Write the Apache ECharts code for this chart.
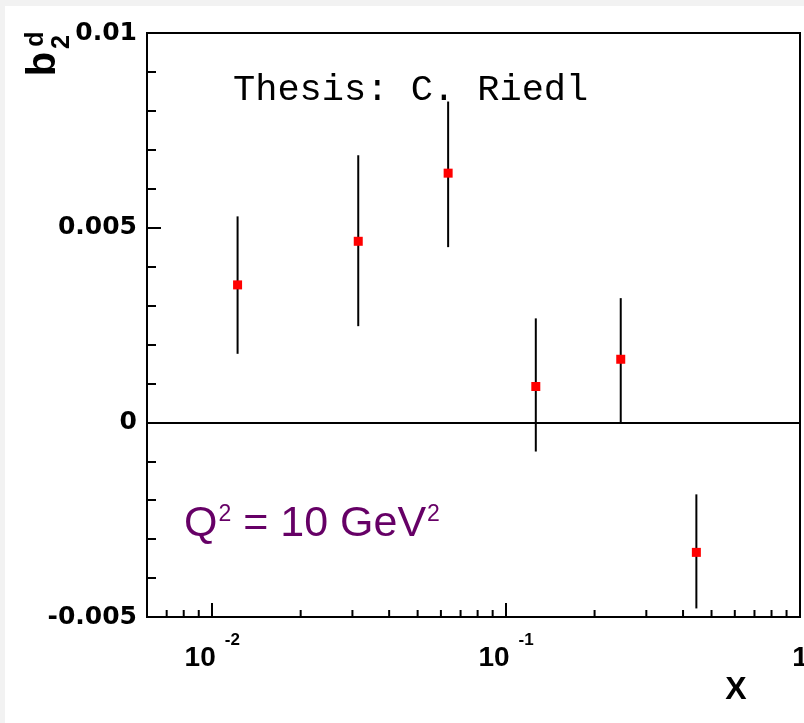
<!DOCTYPE html>
<html><head><meta charset="utf-8">
<script src="https://cdn.jsdelivr.net/npm/echarts@6/dist/echarts.min.js"></script>
<style>html,body{margin:0;padding:0;background:#fff;overflow:hidden}#c{width:804px;height:723px}</style>
</head><body><div id="c"></div>
<script>
// Data
const xValues = [0.0122, 0.0314, 0.0635, 0.1262, 0.2455, 0.444];
const yValues = [0.00353, 0.00465, 0.0064, 0.00092, 0.00162, -0.00334];
const errLow  = [0.00176, 0.00247, 0.0045, -0.00075, 0.0, -0.00478];
const errHigh = [0.00529, 0.00686, 0.00824, 0.00267, 0.00319, -0.00185];
const xMinorTicks = [0.007, 0.008, 0.009, 0.02, 0.03, 0.04, 0.05, 0.06, 0.07, 0.08, 0.09,
                     0.2, 0.3, 0.4, 0.5, 0.6, 0.7, 0.8, 0.9];
const yTickLabels = ['-0.005', '0', '0.005', '0.01'];

const chart = echarts.init(document.getElementById('c'), null, {renderer: 'canvas'});
const FONT = 'Liberation Sans';
const YFONT = 'DejaVu Sans';
const yMin = -0.005, yMax = 0.01;

const option = {
  backgroundColor: '#ffffff',
  animation: false,
  grid: {left: 147, right: 4, top: 33, bottom: 106, show: true, borderColor: '#000', borderWidth: 2,
         backgroundColor: 'transparent', containLabel: false, outerBoundsMode: 'none'},
  xAxis: {
    type: 'log', logBase: 10, min: 0.006, max: 1,
    axisLine: {show: true, onZero: false, lineStyle: {color: '#000', width: 2}},
    axisTick: {show: true, inside: true, length: 14, lineStyle: {color: '#000', width: 2}},
    splitLine: {show: false},
    axisLabel: {
      margin: 15, color: '#000', showMinLabel: false, hideOverlap: false,
      formatter: function (v) {
        const e = Math.round(Math.log10(v));
        if (Math.abs(Math.log10(v) - e) > 1e-6) return '';
        if (e === 0) return '{b|1}';
        return '{b|10}{s|' + e + '}';
      },
      rich: {
        b: {fontFamily: FONT, fontWeight: 'bold', fontSize: 28, lineHeight: 40, verticalAlign: 'bottom', color: '#000'},
        s: {fontFamily: FONT, fontWeight: 'bold', fontSize: 17, verticalAlign: 'top', padding: [0, 0, 0, 9], color: '#000'}
      }
    }
  },
  yAxis: {
    type: 'value', min: yMin, max: yMax, interval: 0.005,
    axisLine: {show: true, onZero: false, lineStyle: {color: '#000', width: 2}},
    axisTick: {show: true, inside: true, length: 14, lineStyle: {color: '#000', width: 2}},
    minorTick: {show: true, splitNumber: 5, length: 9, lineStyle: {color: '#000', width: 2}},
    splitLine: {show: false},
    axisLabel: {
      margin: 10, color: '#000', fontFamily: YFONT, fontWeight: 'bold', fontSize: 25,
      formatter: function (v) {
        const idx = Math.round((v - yMin) / 0.005);
        return yTickLabels[idx] !== undefined ? yTickLabels[idx] : '';
      }
    }
  },
  series: [
    {
      type: 'custom', name: 'minorTicks', silent: true, z: 3,
      data: xMinorTicks.map(v => [v, yMin]),
      renderItem: function (params, api) {
        const p = api.coord([api.value(0), api.value(1)]);
        return {type: 'line', shape: {x1: p[0], y1: p[1], x2: p[0], y2: p[1] - 7}, style: {stroke: '#000', lineWidth: 2}};
      }
    },
    {
      type: 'custom', name: 'errors', silent: true, z: 4,
      data: xValues.map((x, i) => [x, errLow[i], errHigh[i]]),
      encode: {x: 0, y: [1, 2]},
      renderItem: function (params, api) {
        const p1 = api.coord([api.value(0), api.value(1)]);
        const p2 = api.coord([api.value(0), api.value(2)]);
        return {type: 'line', shape: {x1: p1[0], y1: p1[1], x2: p2[0], y2: p2[1]}, style: {stroke: '#000', lineWidth: 2}};
      },
      markLine: {
        silent: true, symbol: ['none', 'none'], label: {show: false},
        lineStyle: {color: '#000', width: 2, type: 'solid'},
        data: [{yAxis: 0}]
      }
    },
    {
      type: 'scatter', name: 'b2d', z: 5,
      symbol: 'rect', symbolSize: 9,
      itemStyle: {color: '#ff0000', opacity: 1},
      data: xValues.map((x, i) => [x, yValues[i]])
    }
  ],
  graphic: [
    {type: 'rect', shape: {x: 0, y: 0, width: 804, height: 6}, style: {fill: '#f2f2f2'}, silent: true},
    {type: 'rect', shape: {x: 0, y: 0, width: 5, height: 723}, style: {fill: '#f2f2f2'}, silent: true},
    {type: 'text', x: 233, y: 90, style: {text: 'Thesis: C. Riedl', fontFamily: 'Liberation Mono', fontSize: 37, fill: '#000', align: 'left', verticalAlign: 'middle'}},
    {type: 'text', x: 184, y: 523, style: {
      text: '{a|Q}{s|2}{a| = 10 GeV}{s|2}', align: 'left', verticalAlign: 'middle',
      rich: {
        a: {fontFamily: FONT, fontSize: 43, fill: '#660066', color: '#660066', verticalAlign: 'bottom', lineHeight: 46},
        s: {fontFamily: FONT, fontSize: 23, fill: '#660066', color: '#660066', verticalAlign: 'top', padding: [3, 0, 0, 1]}
      }
    }},
    {type: 'text', x: 736, y: 690, style: {text: 'X', fontFamily: FONT, fontWeight: 'bold', fontSize: 32, fill: '#000', align: 'center', verticalAlign: 'middle'}},
    {type: 'text', x: 44, y: 64, rotation: Math.PI / 2, style: {text: 'b', fontFamily: FONT, fontWeight: 'bold', fontSize: 40, fill: '#000', align: 'center', verticalAlign: 'middle'}},
    {type: 'text', x: 36, y: 39, rotation: Math.PI / 2, style: {text: 'd', fontFamily: FONT, fontWeight: 'bold', fontSize: 25, fill: '#000', align: 'center', verticalAlign: 'middle'}},
    {type: 'text', x: 62, y: 42, rotation: Math.PI / 2, style: {text: '2', fontFamily: FONT, fontWeight: 'bold', fontSize: 25, fill: '#000', align: 'center', verticalAlign: 'middle'}}
  ]
};
chart.setOption(option);
</script>
</body></html>
